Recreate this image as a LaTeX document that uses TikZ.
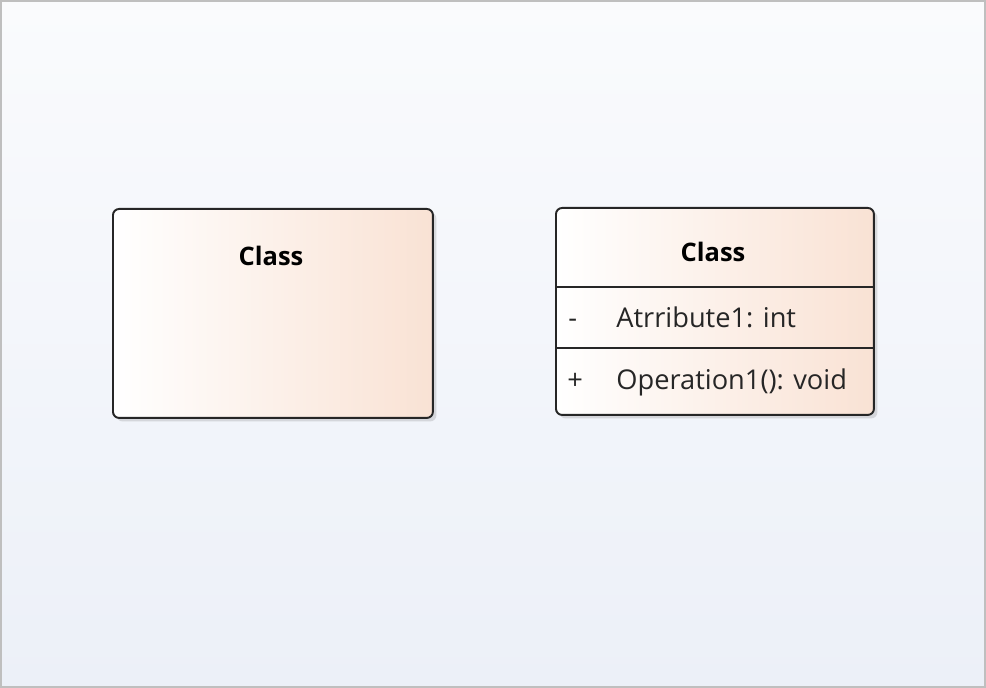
\documentclass[tikz,border=0pt]{standalone}
\usepackage{fontspec}
\setmainfont{Open Sans}
\usetikzlibrary{shadows,positioning}

\definecolor{peach}{RGB}{249,226,212}
\definecolor{frame}{RGB}{191,191,191}
\definecolor{bgtop}{RGB}{250,251,253}
\definecolor{bgbottom}{RGB}{236,240,248}

\tikzset{
  classbox/.style={draw=black!85, line width=1.1pt, rounded corners=3.5pt,
    left color=white, right color=peach, anchor=north west,
    drop shadow={shadow xshift=2pt, shadow yshift=-2pt, opacity=0.25}},
  classname/.style={font=\fontsize{14.5}{17}\selectfont\bfseries, anchor=base, inner sep=0pt},
  member/.style={font=\fontsize{15.5}{18}\selectfont, text=black!85, anchor=base west, inner sep=0pt}
}

\begin{document}
\begin{tikzpicture}[x=0.02cm, y=-0.02cm]
  \useasboundingbox (0,0) rectangle (986,688);
  % background and frame
  \shade[top color=bgtop, bottom color=bgbottom] (0,0) rectangle (986,688);
  \draw[frame, line width=1.2pt] (1,1) rectangle (985,687);

  % class without compartments
  \node[classbox, minimum width=6.4cm, minimum height=4.18cm] (plain) at (112,208) {};
  \node[classname] (plainname) at (271,266) {Class};

  % class with attribute and operation
  \node[classbox, minimum width=6.36cm, minimum height=4.14cm] (full) at (555,207) {};
  \node[classname] (fullname) at (713,262) {Class};
  \draw[black!85, line width=1.1pt] (full.west |- 0,287) -- (full.east |- 0,287);
  \draw[black!85, line width=1.1pt] (full.west |- 0,348) -- (full.east |- 0,348);
  \node[member] (attrvis) at (568,328) {-};
  \node[member] (attr) at (616,328) {Atrribute1: int};
  \node[member] (opvis) at (567,390) {+};
  \node[member] (op) at (616,390) {Operation1(): void};
\end{tikzpicture}
\end{document}
